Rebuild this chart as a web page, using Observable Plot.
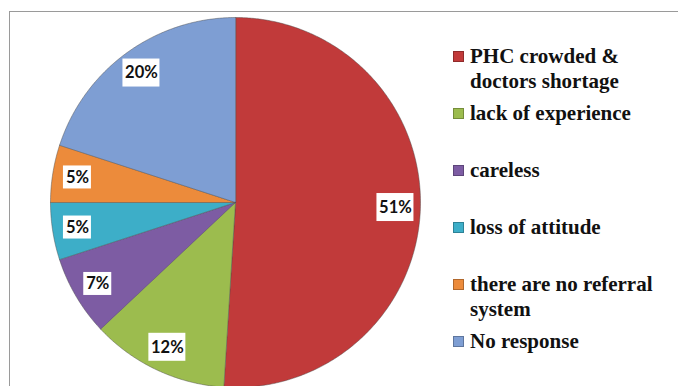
<!DOCTYPE html>
<html>
<head>
<meta charset="utf-8">
<script src="https://cdn.jsdelivr.net/npm/d3@7"></script>
<script src="https://cdn.jsdelivr.net/npm/@observablehq/plot@0.6"></script>
<style>
  html, body { margin: 0; padding: 0; background: #fff; }
  #wrap { position: relative; width: 678px; height: 386px; overflow: hidden; background: #fff; }
  #frame { position: absolute; left: 9px; top: 11px; width: 680px; height: 400px;
           border-left: 1px solid #9a9a9a; border-top: 1px solid #9a9a9a; box-sizing: border-box; }
  #chart { position: absolute; left: 0; top: 0; }
  #legend { position: absolute; left: 453px; top: 44px; color: #111;
            font-family: 'Liberation Serif', 'Times New Roman', serif;
            font-weight: bold; font-size: 21px; line-height: 25px; }
  .item { display: flex; height: 57px; align-items: flex-start; }
  .sw { width: 11px; height: 11px; margin-top: 7px; flex: none; box-sizing: border-box; border: 1px solid rgba(0,0,0,0.25); }
  .lab { margin-left: 6px; width: 200px; }
</style>
</head>
<body>
<div id="wrap">
  <div id="frame"></div>
  <div id="chart"></div>
  <div id="legend"></div>
</div>
<script>
const categories = [
  "PHC crowded & doctors shortage",
  "lack of experience",
  "careless",
  "loss of attitude",
  "there are no referral system",
  "No response"
];
const shares = [51, 12, 7, 5, 5, 20];
const labels = ["51%", "12%", "7%", "5%", "5%", "20%"];
const colors = ["#C13A3A", "#9CBC4E", "#7D5CA3", "#3DAEC8", "#EC8B3B", "#7E9ED3"];

// pie geometry in unit coordinates (y up)
const arcs = d3.pie().sort(null).value(d => d)(shares);
const slicePts = [];
arcs.forEach((a, i) => {
  slicePts.push({cat: categories[i], x: 0, y: 0});
  const n = Math.max(2, Math.ceil((a.endAngle - a.startAngle) / (Math.PI / 360)));
  for (let k = 0; k <= n; k++) {
    const t = a.startAngle + (a.endAngle - a.startAngle) * k / n;
    slicePts.push({cat: categories[i], x: Math.sin(t), y: Math.cos(t)});
  }
});
const labelR = 0.865;
const labelData = arcs.map((a, i) => {
  const m = (a.startAngle + a.endAngle) / 2;
  return {label: labels[i], x: labelR * Math.sin(m), y: labelR * Math.cos(m)};
});

const chart = Plot.plot({
  width: 678,
  height: 386,
  margin: 0,
  x: {domain: [-1, 1], range: [50, 420], axis: null},
  y: {domain: [-1, 1], range: [387, 17], axis: null},
  color: {domain: categories, range: colors},
  style: {background: "transparent", overflow: "visible"},
  marks: [
    Plot.line(slicePts, {x: "x", y: "y", z: "cat", fill: "cat", stroke: "#4a4a4a",
      strokeOpacity: 0.45, strokeWidth: 1, curve: "linear-closed"}),
    Plot.rect(labelData.filter(d => d.label.length === 3), {x1: "x", x2: "x", y1: "y", y2: "y",
      insetLeft: -18.5, insetRight: -18.5, insetTop: -14, insetBottom: -14, fill: "white"}),
    Plot.rect(labelData.filter(d => d.label.length === 2), {x1: "x", x2: "x", y1: "y", y2: "y",
      insetLeft: -14, insetRight: -14, insetTop: -11.5, insetBottom: -11.5, fill: "white"}),
    Plot.text(labelData, {x: "x", y: "y", text: "label", fontFamily: "Lato, 'Open Sans', sans-serif",
      fontWeight: "bold", fontSize: 16.5, fill: "#111"})
  ]
});
document.getElementById("chart").appendChild(chart);

const legend = document.getElementById("legend");
categories.forEach((c, i) => {
  const item = document.createElement("div");
  item.className = "item";
  const sw = document.createElement("span");
  sw.className = "sw";
  sw.style.background = colors[i];
  const lab = document.createElement("span");
  lab.className = "lab";
  lab.textContent = c;
  item.appendChild(sw);
  item.appendChild(lab);
  legend.appendChild(item);
});
</script>
</body>
</html>
